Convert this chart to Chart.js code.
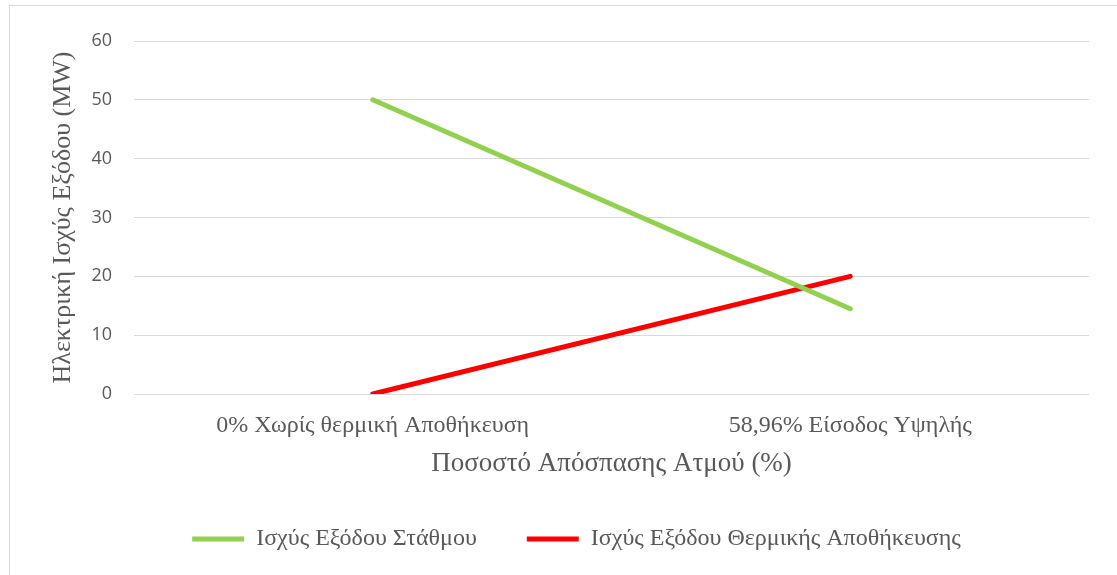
<!DOCTYPE html>
<html>
<head>
<meta charset="utf-8">
<script src="https://cdn.jsdelivr.net/npm/chart.js@4"></script>
<style>
  html, body { margin: 0; padding: 0; background: #ffffff; }
  #wrap { position: relative; width: 1117px; height: 575px; overflow: hidden; }
  #frame { position: absolute; left: 9px; top: 5px; width: 1200px; height: 700px; border: 1px solid #d9d9d9; box-sizing: border-box; }
  canvas { position: absolute; left: 0; top: 0; }
</style>
</head>
<body>
<div id="wrap">
  <div id="frame"></div>
  <canvas id="c" width="1117" height="575"></canvas>
</div>
<script>
const categories = ["0% Χωρίς θερμική Αποθήκευση", "58,96% Είσοδος Υψηλής"];
const stationOutput = [50, 14.5];
const storageOutput = [0, 20];
const seriesNames = ["Ισχύς Εξόδου Στάθμου", "Ισχύς Εξόδου Θερμικής Αποθήκευσης"];
const yTitle = "Ηλεκτρική Ισχύς Εξόδου (MW)";
const xTitle = "Ποσοστό Απόσπασης Ατμού (%)";
const yMin = 0, yMax = 60, yStep = 10;

const serif = "'Liberation Serif', 'Times New Roman', serif";
const sans = "'Open Sans', 'Liberation Sans', sans-serif";
const textColor = "#595959";

new Chart(document.getElementById('c'), {
  type: 'line',
  data: {
    labels: categories,
    datasets: [
      { label: seriesNames[0], data: stationOutput, borderColor: '#92d050', backgroundColor: '#92d050',
        borderWidth: 5, borderCapStyle: 'round', pointRadius: 0, pointHoverRadius: 0, tension: 0, fill: false },
      { label: seriesNames[1], data: storageOutput, borderColor: '#ff0000', backgroundColor: '#ff0000',
        borderWidth: 5, borderCapStyle: 'round', pointRadius: 0, pointHoverRadius: 0, tension: 0, fill: false }
    ]
  },
  options: {
    responsive: false,
    animation: false,
    layout: { padding: { top: 41, right: 28, bottom: 14, left: 64 } },
    plugins: {
      tooltip: { enabled: false },
      legend: {
        position: 'bottom',
        labels: {
          usePointStyle: true,
          pointStyle: 'line',
          pointStyleWidth: 52,
          padding: 50,
          color: textColor,
          font: { family: serif, size: 24 }
        }
      }
    },
    scales: {
      x: {
        type: 'category',
        offset: true,
        grid: { display: false, drawTicks: false },
        border: { display: false },
        ticks: { color: textColor, font: { family: serif, size: 24 }, padding: 17, maxRotation: 0 },
        title: { display: true, text: xTitle, color: textColor, font: { family: serif, size: 27 }, padding: { top: 0, bottom: -3 } },
        afterFit: (s) => { s.height = 83; }
      },
      y: {
        min: yMin, max: yMax,
        grid: { color: '#d9d9d9', lineWidth: 1, drawTicks: false },
        border: { display: false },
        ticks: { stepSize: yStep, color: textColor, font: { family: sans, size: 18 }, padding: 22 },
        title: { display: true, text: yTitle, color: textColor, font: { family: serif, size: 26 }, padding: { top: -16.6, bottom: 0 } },
        afterFit: (s) => { s.width = 70; }
      }
    }
  }
});
</script>
</body>
</html>
